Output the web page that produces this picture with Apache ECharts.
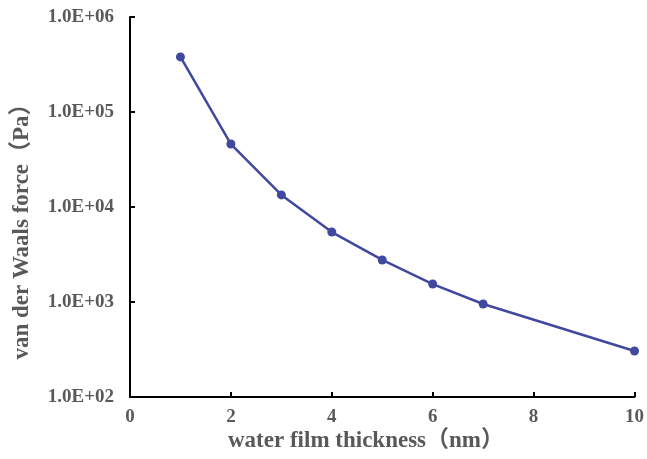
<!DOCTYPE html>
<html>
<head>
<meta charset="utf-8">
<script src="https://cdn.jsdelivr.net/npm/echarts@6/dist/echarts.min.js"></script>
<style>
  html, body { margin: 0; padding: 0; background: #fff; }
  #main { width: 647px; height: 459px; }
</style>
</head>
<body>
<div id="main"></div>
<script>
// water film thickness (nm)
var thickness = [1, 2, 3, 4, 5, 6, 7, 10];
// van der Waals force (Pa)
var force = [380000, 46000, 13400, 5450, 2770, 1545, 953, 305];

var xTicks = [0, 2, 4, 6, 8, 10];
var yTicks = [1e2, 1e3, 1e4, 1e5, 1e6];

var xName = 'water film thickness（nm）';
var yName = 'van der Waals force（Pa）';

var chart = echarts.init(document.getElementById('main'));

var fontFam = '"Liberation Serif", "Times New Roman", "Noto Sans CJK SC", serif';
var grey = '#595959';

function sciLabel(v) {
    var e = Math.round(Math.log10(v));
    var m = v / Math.pow(10, e);
    return m.toFixed(1) + 'E+' + (e < 10 ? '0' + e : e);
}

var option = {
    backgroundColor: '#fff',
    animation: false,
    grid: { left: 130, right: 10, top: 17, bottom: 62 },
    // axis titles placed by hand, they sit off-centre in the original
    graphic: [
        {
            type: 'text', x: 366, y: 441,
            style: { text: xName, fill: grey, font: 'bold 23px ' + fontFam, align: 'center', verticalAlign: 'middle' }
        },
        {
            type: 'text', x: 22, y: 226, rotation: Math.PI / 2,
            style: { text: yName, fill: grey, font: 'bold 23px ' + fontFam, align: 'center', verticalAlign: 'middle' }
        }
    ],
    xAxis: {
        type: 'value',
        min: xTicks[0],
        max: xTicks[xTicks.length - 1],
        interval: 2,
        axisLine: { lineStyle: { color: '#000', width: 2 } },
        axisTick: { inside: true, length: 5, lineStyle: { color: '#000', width: 2 } },
        axisLabel: { color: grey, fontFamily: fontFam, fontWeight: 'bold', fontSize: 19, margin: 11 },
        splitLine: { show: false }
    },
    yAxis: {
        type: 'log',
        logBase: 10,
        min: yTicks[0],
        max: yTicks[yTicks.length - 1],
        axisLine: { show: true, lineStyle: { color: '#000', width: 2 } },
        axisTick: { show: true, inside: true, length: 5, lineStyle: { color: '#000', width: 2 } },
        axisLabel: {
            color: grey, fontFamily: fontFam, fontWeight: 'bold', fontSize: 19, margin: 16,
            formatter: function (v) { return sciLabel(v); }
        },
        splitLine: { show: false }
    },
    series: [{
        type: 'line',
        data: thickness.map(function (t, i) { return [t, force[i]]; }),
        symbol: 'circle',
        symbolSize: 9,
        lineStyle: { color: '#4148a0', width: 2.5 },
        itemStyle: { color: '#4148a0' }
    }]
};

chart.setOption(option);
</script>
</body>
</html>
